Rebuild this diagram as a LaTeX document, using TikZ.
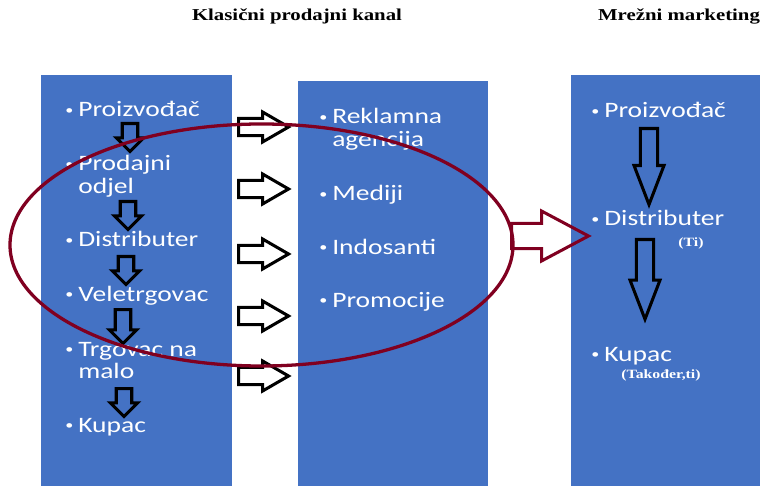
\documentclass[tikz,border=0pt]{standalone}
\usepackage{fontspec}
\usepackage{xcolor}
\usetikzlibrary{shapes.arrows}
\setmainfont{Liberation Serif}[FakeStretch=1.25]
\newfontfamily\boxfont{Carlito}[FakeStretch=1.25]
\definecolor{panelblue}{RGB}{68,114,196}
\definecolor{ringred}{RGB}{128,0,32}
\newcommand\itm[1]{\makebox[12pt][l]{\hspace{1pt}\raisebox{2.5pt}{\fontsize{11}{11}\selectfont•}}\begin{tabular}[t]{@{}l@{}}#1\end{tabular}}

\begin{document}
\begin{tikzpicture}[x=0.03cm, y=-0.03cm,
        panel/.style={fill=panelblue},
        entry/.style={anchor=base west, inner sep=0pt, text=white, font=\boxfont\fontsize{18.8}{18.8}\selectfont},
        note/.style={anchor=base, inner sep=0pt, text=white, font=\bfseries\fontsize{10.8}{10.8}\selectfont},
        heading/.style={anchor=base, inner sep=0pt, font=\bfseries\fontsize{14.2}{14.2}\selectfont},
        blockarrow/.style={single arrow, draw=black, line width=2.6pt, single arrow head indent=0pt, inner xsep=0pt, anchor=tail},
        smalldown/.style={blockarrow, rotate=-90, minimum height=23.9pt, inner ysep=5.3pt, single arrow head extend=5.1pt, single arrow tip angle=90},
        rightarr/.style={blockarrow, minimum height=42.7pt, inner ysep=6pt, single arrow head extend=5.5pt, single arrow tip angle=60},
        bigdown/.style={blockarrow, rotate=-90, minimum height=64.9pt, inner ysep=6pt, single arrow head extend=5.5pt, single arrow tip angle=42},
        ring/.style={draw=ringred, line width=2.8pt}]
        \useasboundingbox (0,0) rectangle (765,486);
        \fill[panel] (41,75) rectangle (232,486);
        \fill[panel] (298,81) rectangle (488,486);
        \fill[panel] (571,75) rectangle (760,486);

        \node[heading] (klasicni) at (297,21) {Klasični prodajni kanal};
        \node[heading] (mrezni) at (679,21) {Mrežni marketing};

        \node[smalldown] (d1) at (130,122) {};
        \node[smalldown] (d2) at (128,200) {};
        \node[smalldown] (d3) at (126,255) {};
        \node[smalldown, minimum height=29pt] (d4) at (123,308) {};
        \node[smalldown] (d5) at (124,387) {};

        \foreach \y [count=\i] in {127,189,254,316,376}
            \node[rightarr] (r\i) at (237,\y) {};

        \node[bigdown] (m1) at (649,127) {};
        \node[bigdown, minimum height=68pt] (m2) at (645,238) {};

        \node[entry] (proizvodjac) at (64,117) {\itm{Proizvođač}};
        \node[entry] (odjel) at (64,171) {\itm{Prodajni\\odjel}};
        \node[entry] (distributer) at (64,247) {\itm{Distributer}};
        \node[entry] (veletrgovac) at (64,301) {\itm{Veletrgovac}};
        \node[entry] (trgovac) at (64,356) {\itm{Trgovac na\\malo}};
        \node[entry] (kupac) at (64,432) {\itm{Kupac}};

        \node[entry] (agencija) at (318,124) {\itm{Reklamna\\agencija}};
        \node[entry] (mediji) at (318,201) {\itm{Mediji}};
        \node[entry] (indosanti) at (318,254) {\itm{Indosanti}};
        \node[entry] (promocije) at (318,307) {\itm{Promocije}};

        \node[entry] (mproizvodjac) at (590,118) {\itm{Proizvođač}};
        \node[entry] (mdistributer) at (590,226) {\itm{Distributer}};
        \node[note] (ti) at (691,247) {(Ti)};
        \node[entry] (mkupac) at (590,361) {\itm{Kupac}};
        \node[note] (takodjer) at (661,378) {(Također,ti)};

        \node[single arrow, draw=ringred, line width=2.6pt, single arrow head indent=0pt, single arrow head extend=10.6pt, inner xsep=0pt, inner ysep=9.4pt,
            minimum height=65.7pt, single arrow tip angle=56, anchor=tail] (prelaz) at (510,236) {};
        \draw[ring] (261.5,245) ellipse [x radius=251.5, y radius=121];
    \end{tikzpicture}
\end{document}
